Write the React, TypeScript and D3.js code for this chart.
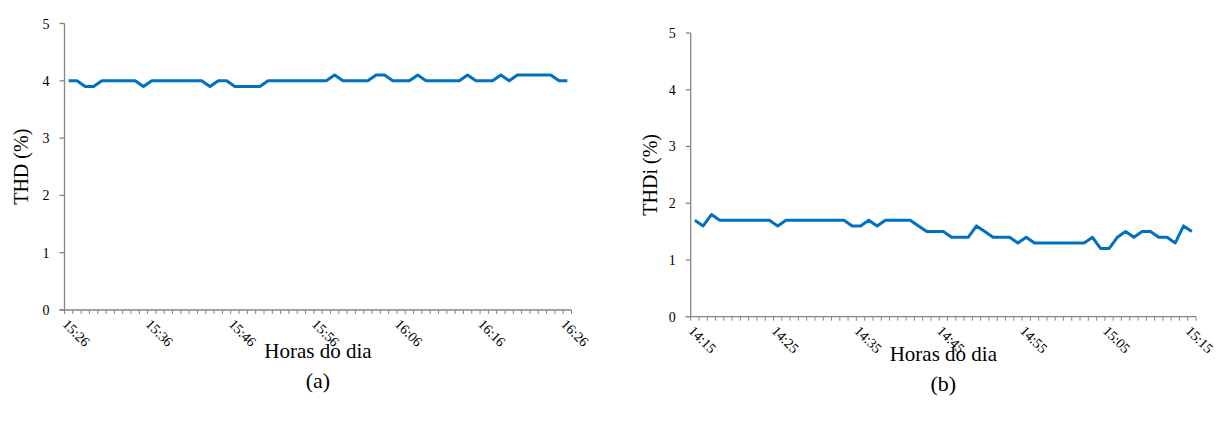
import React from "react";
import * as d3 from "d3";

const thdA: number[] = [
  4.0, 4.0, 3.9, 3.9, 4.0, 4.0, 4.0, 4.0, 4.0, 3.9,
  4.0, 4.0, 4.0, 4.0, 4.0, 4.0, 4.0, 3.9, 4.0, 4.0,
  3.9, 3.9, 3.9, 3.9, 4.0, 4.0, 4.0, 4.0, 4.0, 4.0,
  4.0, 4.0, 4.1, 4.0, 4.0, 4.0, 4.0, 4.1, 4.1, 4.0,
  4.0, 4.0, 4.1, 4.0, 4.0, 4.0, 4.0, 4.0, 4.1, 4.0,
  4.0, 4.0, 4.1, 4.0, 4.1, 4.1, 4.1, 4.1, 4.1, 4.0,
  4.0,
];
const thdB: number[] = [
  1.7, 1.6, 1.8, 1.7, 1.7, 1.7, 1.7, 1.7, 1.7, 1.7,
  1.6, 1.7, 1.7, 1.7, 1.7, 1.7, 1.7, 1.7, 1.7, 1.6,
  1.6, 1.7, 1.6, 1.7, 1.7, 1.7, 1.7, 1.6, 1.5, 1.5,
  1.5, 1.4, 1.4, 1.4, 1.6, 1.5, 1.4, 1.4, 1.4, 1.3,
  1.4, 1.3, 1.3, 1.3, 1.3, 1.3, 1.3, 1.3, 1.4, 1.2,
  1.2, 1.4, 1.5, 1.4, 1.5, 1.5, 1.4, 1.4, 1.3, 1.6,
  1.5,
];
const labelsA: string[] = ["15:26", "15:36", "15:46", "15:56", "16:06", "16:16", "16:26"];
const labelsB: string[] = ["14:15", "14:25", "14:35", "14:45", "14:55", "15:05", "15:15"];
const yTicks: number[] = [0, 1, 2, 3, 4, 5];
const labelEvery = 10;

const AXIS = "#868686";
const LINE = "#0070C0";
const FONT = "'Liberation Serif', 'Times New Roman', serif";

type PanelProps = {
  data: number[];
  labels: string[];
  x0: number;
  x1: number;
  yTop: number;
  yBottom: number;
  yTitle: string;
  yTitleX: number;
  xTitleY: number;
  caption: string;
  captionY: number;
};

function Panel(p: PanelProps) {
  const idx = p.data.map((_, i) => i);
  const x = d3.scaleBand<number>().domain(idx).range([p.x0, p.x1]).padding(0);
  const bw = x.bandwidth();
  const cx = (i: number) => (x(i) as number) + bw / 2;
  const y = d3.scaleLinear().domain([0, 5]).range([p.yBottom, p.yTop]);
  const line = d3
    .line<number>()
    .x((_, i) => cx(i))
    .y((d) => y(d));
  const bounds = idx.map((i) => x(i) as number).concat([p.x1]);
  const midX = (p.x0 + p.x1) / 2;
  return (
    <g>
      <line x1={p.x0} x2={p.x0} y1={y(5)} y2={y(0)} stroke={AXIS} strokeWidth={1.3} />
      {yTicks.map((t) => (
        <g key={t}>
          <line x1={p.x0 - 5} x2={p.x0} y1={y(t)} y2={y(t)} stroke={AXIS} strokeWidth={1.3} />
          <text x={p.x0 - 15} y={y(t) + 5} fontSize={14} textAnchor="end" fontFamily={FONT} fill="#000">
            {t}
          </text>
        </g>
      ))}
      <line x1={p.x0 - 5} x2={p.x1} y1={y(0)} y2={y(0)} stroke={AXIS} strokeWidth={1.3} />
      {bounds.map((b, k) => (
        <line key={k} x1={b} x2={b} y1={y(0)} y2={y(0) + 4} stroke={AXIS} strokeWidth={1} />
      ))}
      {p.labels.map((l, k) => {
        const i = k * labelEvery;
        const tx = cx(i) - 7;
        const ty = y(0) + 15;
        return (
          <text
            key={l}
            transform={`translate(${tx},${ty}) rotate(45)`}
            fontSize={14}
            fontFamily={FONT}
            fill="#000"
          >
            {l}
          </text>
        );
      })}
      <path d={line(p.data) || ""} fill="none" stroke={LINE} strokeWidth={3} strokeLinejoin="round" />
      <text
        transform={`translate(${p.yTitleX},${(y(5) + y(0)) / 2}) rotate(-90)`}
        textAnchor="middle"
        fontSize={20}
        fontFamily={FONT}
        fill="#000"
      >
        {p.yTitle}
      </text>
      <text x={midX} y={p.xTitleY} textAnchor="middle" fontSize={21} fontFamily={FONT} fill="#000">
        Horas do dia
      </text>
      <text x={midX} y={p.captionY} textAnchor="middle" fontSize={22} fontFamily={FONT} fill="#000">
        {p.caption}
      </text>
    </g>
  );
}

export default function App() {
  return (
    <svg
      width={1222}
      height={421}
      style={{ position: "absolute", left: 0, top: 0, background: "#fff" }}
    >
      <rect width={1222} height={421} fill="#fff" />
      <Panel
        data={thdA}
        labels={labelsA}
        x0={64.5}
        x1={571.5}
        yTop={23.5}
        yBottom={310}
        yTitle="THD (%)"
        yTitleX={28}
        xTitleY={358}
        caption="(a)"
        captionY={388}
      />
      <Panel
        data={thdB}
        labels={labelsB}
        x0={690.7}
        x1={1196}
        yTop={33}
        yBottom={316.7}
        yTitle="THDi (%)"
        yTitleX={657}
        xTitleY={361}
        caption="(b)"
        captionY={391}
      />
    </svg>
  );
}
